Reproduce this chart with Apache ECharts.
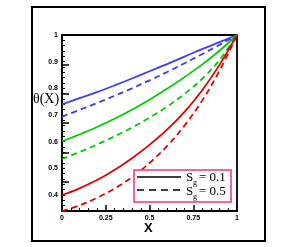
<!DOCTYPE html>
<html><head><meta charset="utf-8">
<script src="https://cdn.jsdelivr.net/npm/echarts@6/dist/echarts.min.js"></script>
<style>html,body{margin:0;padding:0;background:#fff}#c{width:300px;height:247px}</style>
</head><body><div id="c"></div>
<script>
var xValues = [0, 0.1, 0.2, 0.3, 0.4, 0.5, 0.6, 0.7, 0.8, 0.9, 1.0];
var blueSolid  = [0.740, 0.763, 0.786, 0.811, 0.837, 0.864, 0.891, 0.919, 0.947, 0.973, 1.0];
var blueDashed = [0.694, 0.719, 0.745, 0.772, 0.800, 0.830, 0.861, 0.894, 0.928, 0.963, 1.0];
var greenSolid = [0.601, 0.627, 0.655, 0.686, 0.720, 0.757, 0.798, 0.842, 0.889, 0.941, 1.0];
var greenDashed= [0.535, 0.561, 0.589, 0.620, 0.653, 0.690, 0.731, 0.779, 0.835, 0.906, 1.0];
var redSolid   = [0.400, 0.425, 0.456, 0.494, 0.538, 0.588, 0.645, 0.712, 0.792, 0.888, 1.0];
var redDashed  = [0.340, 0.361, 0.389, 0.424, 0.467, 0.520, 0.583, 0.660, 0.753, 0.866, 1.0];
var xTickLabels = ['0', '0.25', '0.5', '0.75', '1'];
var yTickLabels = ['0.4', '0.5', '0.6', '0.7', '0.8', '0.9', '1'];
var legendLabels = ['= 0.1', '= 0.5'];

function pts(ys){ return xValues.map(function(x,i){ return [x, ys[i]]; }); }
var BLUE='#3d3dff', GREEN='#00cc00', RED='#e00000';
function ser(ys, color, dashed){
  return {type:'line', data:pts(ys), smooth:0.35, showSymbol:false, silent:true,
    lineStyle:{color:color, width:1.8, type: dashed ? [6,4] : 'solid'}, z:3};
}
var lblFont = {fontFamily:'Liberation Sans', fontWeight:'bold', fontSize:7, color:'#000'};
var chart = echarts.init(document.getElementById('c'), null, {renderer:'canvas'});
chart.setOption({
  animation:false,
  grid:{left:62, top:35, right:63, bottom:36, show:true, borderColor:'#000', borderWidth:1.8, backgroundColor:'transparent'},
  xAxis:[{type:'value', min:0, max:1, interval:0.25,
    axisLine:{show:true, lineStyle:{color:'#000', width:1.8}},
    axisTick:{inside:true, length:6, lineStyle:{color:'#000', width:1.5}},
    minorTick:{show:true, splitNumber:5, length:3, lineStyle:{color:'#000', width:1}},
    splitLine:{show:false},
    axisLabel:Object.assign({margin:4, formatter:function(v){ var i=Math.round(v/0.25); return Math.abs(v-i*0.25)<1e-6 ? xTickLabels[i] : ''; }}, lblFont)
  }],
  yAxis:[{type:'value', min:0.34, max:1,
    axisLine:{show:true, lineStyle:{color:'#000', width:1.8}},
    axisTick:{show:false},
    splitLine:{show:false},
    axisLabel:Object.assign({margin:4, formatter:function(v){ var k=Math.round(v*10); if(Math.abs(v*10-k)>1e-6) return ''; var idx=k-4; return (idx>=0 && idx<yTickLabels.length) ? yTickLabels[idx] : ''; }}, lblFont)
  },{type:'value', min:0.34, max:1, interval:0.02, position:'left',
    axisLine:{show:false},
    axisTick:{inside:true, length:3, lineStyle:{color:'#000', width:1}},
    axisLabel:{show:false}, splitLine:{show:false}
  },{type:'value', min:0.4, max:1, interval:0.1, position:'left',
    axisLine:{show:false},
    axisTick:{inside:true, length:7, lineStyle:{color:'#000', width:1.5}},
    axisLabel:{show:false}, splitLine:{show:false}
  }],
  series:[
    ser(blueSolid, BLUE, false), ser(blueDashed, BLUE, true),
    ser(greenSolid, GREEN, false), ser(greenDashed, GREEN, true),
    ser(redSolid, RED, false), ser(redDashed, RED, true)
  ],
  graphic:[
    {type:'rect', shape:{x:32, y:7, width:233, height:234}, style:{fill:'none', stroke:'#000', lineWidth:2}, z:10},
    {type:'text', left:33, top:92, style:{text:'θ(X)', font:'14px "Liberation Serif"', fill:'#000'}, z:10},
    {type:'text', left:144, top:222, style:{text:'X', font:'bold 13px "Liberation Sans"', fill:'#000'}, z:10},
    {type:'rect', shape:{x:134, y:170, width:97, height:32}, style:{fill:'#fff', stroke:'#f0308c', lineWidth:1.5}, z:10},
    {type:'line', shape:{x1:137, y1:177, x2:181, y2:177}, style:{stroke:'#000', lineWidth:1.5}, z:11},
    {type:'line', shape:{x1:137, y1:190, x2:182, y2:190}, style:{stroke:'#000', lineWidth:1.5, lineDash:[7,5]}, z:11},
    {type:'text', x:186, y:171, style:{text:'S', font:'13px "Liberation Serif"', fill:'#000'}, z:11},
    {type:'text', x:193, y:179, style:{text:'g', font:'8px "Liberation Serif"', fill:'#000'}, z:11},
    {type:'text', x:199, y:171, style:{text:legendLabels[0], font:'13px "Liberation Serif"', fill:'#000'}, z:11},
    {type:'text', x:186, y:185, style:{text:'S', font:'13px "Liberation Serif"', fill:'#000'}, z:11},
    {type:'text', x:193, y:193, style:{text:'g', font:'8px "Liberation Serif"', fill:'#000'}, z:11},
    {type:'text', x:199, y:185, style:{text:legendLabels[1], font:'13px "Liberation Serif"', fill:'#000'}, z:11}
  ]
});
</script></body></html>
